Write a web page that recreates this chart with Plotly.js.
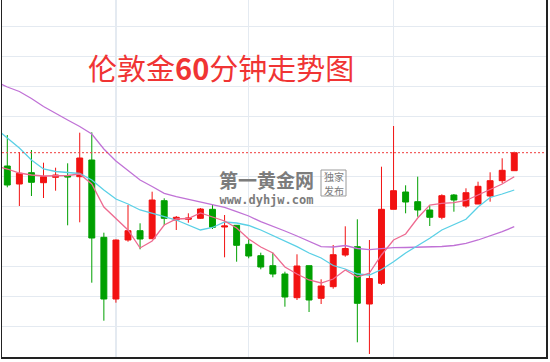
<!DOCTYPE html>
<html><head><meta charset="utf-8">
<script src="https://cdn.plot.ly/plotly-3.0.1.min.js"></script>
<style>html,body{margin:0;padding:0;background:#fff}#chart{width:550px;height:362px}</style>
</head><body><div id="chart"></div>
<script>
// 60-minute bars, index 0..42
const openP  = [1279.07,1277.27,1278.40,1277.40,1277.94,1278.10,1278.00,1279.67,1271.94,1265.77,1271.67,1272.60,1271.80,1275.60,1273.67,1273.74,1273.84,1274.74,1272.97,1273.14,1271.24,1270.10,1269.10,1268.27,1265.90,1269.10,1265.84,1267.00,1270.17,1271.00,1265.27,1267.34,1274.74,1276.47,1275.50,1274.67,1273.94,1276.17,1275.07,1275.27,1276.07,1277.60,1278.60];
const highP  = [1282.17,1280.47,1280.67,1279.40,1278.90,1279.34,1282.40,1282.44,1272.40,1271.72,1275.17,1273.34,1276.50,1275.84,1274.07,1274.34,1274.87,1275.17,1274.17,1273.14,1271.74,1270.40,1270.40,1268.50,1270.24,1269.10,1267.74,1271.17,1273.04,1273.74,1271.67,1279.00,1283.07,1277.14,1278.00,1275.07,1276.24,1276.27,1276.84,1277.50,1278.44,1279.84,1280.50];
const lowP   = [1276.94,1275.07,1276.07,1275.87,1276.60,1273.14,1273.44,1267.40,1263.60,1265.40,1271.50,1270.74,1271.80,1273.14,1272.67,1273.40,1273.77,1272.77,1269.94,1269.50,1269.84,1268.74,1267.94,1265.00,1265.67,1264.47,1265.27,1266.80,1270.00,1261.44,1260.27,1267.17,1274.74,1274.34,1274.00,1273.07,1273.74,1274.50,1274.90,1275.27,1275.50,1277.34,1278.60];
const closeP = [1277.17,1278.34,1277.44,1278.00,1278.17,1277.97,1279.87,1271.87,1265.77,1271.67,1272.60,1271.77,1275.67,1273.84,1273.94,1273.87,1274.77,1272.94,1273.07,1271.14,1270.07,1268.97,1268.27,1265.97,1269.07,1265.67,1267.07,1270.20,1270.82,1265.34,1267.82,1274.74,1276.60,1275.47,1274.67,1273.94,1276.10,1275.67,1276.40,1277.04,1277.60,1278.64,1280.40];
// moving averages, read at index -1..42
const maFast = [1279.07,1278.77,1278.37,1278.17,1278.07,1278.07,1278.12,1278.27,1277.27,1274.97,1273.77,1272.67,1270.87,1271.57,1273.17,1273.77,1273.82,1274.37,1273.97,1273.57,1272.87,1271.77,1270.97,1270.37,1268.97,1268.27,1267.67,1267.37,1267.77,1268.67,1267.97,1268.37,1270.17,1271.67,1272.27,1273.87,1275.17,1275.34,1275.40,1275.62,1276.17,1276.72,1277.27,1278.00];
const maMid  = [1282.87,1281.87,1280.87,1279.67,1278.77,1278.52,1278.42,1278.32,1277.67,1276.67,1275.77,1275.27,1274.67,1274.37,1274.00,1273.67,1273.17,1272.67,1272.92,1273.47,1273.37,1273.12,1272.67,1272.12,1271.57,1271.00,1270.37,1269.87,1269.12,1268.77,1268.27,1268.17,1268.72,1269.50,1270.37,1271.07,1271.84,1272.67,1273.17,1273.74,1274.97,1275.92,1276.27,1276.67];
const maSlow = [1287.52,1286.97,1286.52,1285.82,1285.02,1284.32,1283.67,1283.02,1282.27,1280.77,1279.57,1278.62,1277.67,1277.02,1276.34,1276.00,1275.74,1275.50,1275.27,1274.94,1274.50,1274.07,1273.50,1273.07,1272.57,1272.07,1271.50,1271.00,1270.97,1271.12,1270.82,1270.70,1270.80,1270.90,1270.92,1270.94,1270.94,1271.02,1271.12,1271.34,1271.67,1272.07,1272.50,1273.00];
const lastPrice = 1280.40;
const sessionTicks = [9, 20, 32];
const titleText = '伦敦金<b>60</b>分钟走势图';
const markName = '第一黄金网';
const markSite = 'www.dyhjw.com';
const markTag1 = '独家';
const markTag2 = '发布';

const barX = openP.map((_, i) => i);
const maX = maFast.map((_, i) => i - 1);

const RED = '#f21212', GREEN = '#00a000';
const traces = [
  {type: 'candlestick', x: barX, open: openP, high: highP, low: lowP, close: closeP,
   increasing: {line: {color: RED, width: 1}, fillcolor: RED},
   decreasing: {line: {color: GREEN, width: 1}, fillcolor: GREEN},
   hoverinfo: 'none', showlegend: false},
  {type: 'scatter', mode: 'lines', x: maX, y: maSlow, line: {color: '#c072d6', width: 1.3}, hoverinfo: 'none', showlegend: false},
  {type: 'scatter', mode: 'lines', x: maX, y: maMid, line: {color: '#5ad0e6', width: 1.3}, hoverinfo: 'none', showlegend: false},
  {type: 'scatter', mode: 'lines', x: maX, y: maFast, line: {color: '#ee6a90', width: 1.3}, hoverinfo: 'none', showlegend: false}
];

const px = v => (v - 2) / 544;
const py = v => 1 - v / 357;

const layout = {
  width: 550, height: 362,
  margin: {l: 2, r: 4, t: 0, b: 5, pad: 0},
  paper_bgcolor: '#ffffff', plot_bgcolor: '#ffffff',
  showlegend: false,
  xaxis: {range: [-0.439, 44.63], tickvals: sessionTicks, showticklabels: false, ticks: '',
          showgrid: true, gridcolor: '#e4eaf1', gridwidth: 1.3, zeroline: false,
          showline: true, linecolor: '#222', linewidth: 1.5, rangeslider: {visible: false}, fixedrange: true},
  yaxis: {range: [1259.97, 1295.67], tick0: 1260, dtick: 3, showticklabels: false, ticks: '',
          showgrid: true, gridcolor: '#e4eaf1', gridwidth: 1.3, zeroline: false,
          showline: true, linecolor: '#222', linewidth: 1.5, mirror: true, fixedrange: true},
  shapes: [
    {type: 'line', xref: 'paper', x0: 0, x1: 1, yref: 'y', y0: lastPrice, y1: lastPrice,
     line: {color: '#f03a3a', width: 1, dash: '2px,2px'}},
    {type: 'rect', xref: 'paper', yref: 'paper', x0: px(321), x1: px(346), y0: py(196), y1: py(170),
     line: {color: '#9a9a9a', width: 1}, fillcolor: 'rgba(255,255,255,0)'}
  ],
  annotations: [
    {xref: 'paper', yref: 'paper', x: px(86), y: py(66.5), xanchor: 'left', yanchor: 'middle', showarrow: false,
     text: titleText, font: {family: 'Noto Sans CJK SC', size: 29, color: '#f03434'}},
    {xref: 'paper', yref: 'paper', x: px(266), y: py(186), xanchor: 'center', yanchor: 'middle', showarrow: false,
     align: 'center',
     text: '<span style="font-size:19px;font-family:Noto Sans CJK SC"><b>' + markName + '</b></span><br>' +
           '<span style="font-size:12px;font-family:DejaVu Sans Mono"><b>' + markSite + '</b></span>',
     font: {family: 'Noto Sans CJK SC', size: 12, color: '#7c7c7c'}},
    {xref: 'paper', yref: 'paper', x: px(333.5), y: py(176.5), xanchor: 'center', yanchor: 'middle', showarrow: false,
     text: markTag1, font: {family: 'Noto Sans CJK SC', size: 10, color: '#7c7c7c'}},
    {xref: 'paper', yref: 'paper', x: px(333.5), y: py(190), xanchor: 'center', yanchor: 'middle', showarrow: false,
     text: markTag2, font: {family: 'Noto Sans CJK SC', size: 10, color: '#7c7c7c'}}
  ]
};

Plotly.newPlot('chart', traces, layout, {displayModeBar: false, staticPlot: true});
</script></body></html>
